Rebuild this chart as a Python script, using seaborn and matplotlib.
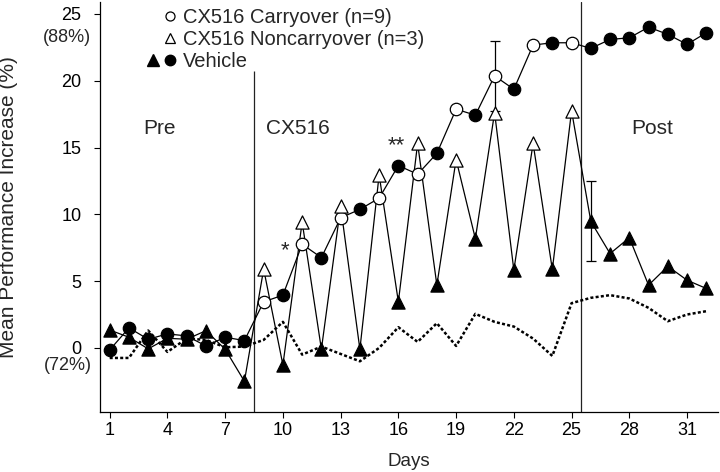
import matplotlib
matplotlib.use('Agg')
import pandas as pd
import matplotlib.pyplot as plt
import matplotlib.transforms as mtransforms
from matplotlib.lines import Line2D
from matplotlib.legend_handler import HandlerTuple
import seaborn as sns

# --- data ---
days = list(range(1, 33))
carryover = [-0.15, 1.5, 0.65, 1.05, 0.9, 0.15, 0.8, 0.55,
             3.45, 3.95, 7.76, 6.76, 9.74, 10.37, 11.21, 13.65, 13.0,
             14.56, 17.87, 17.42, 20.36, 19.36, 22.67, 22.84, 22.84,
             22.42, 23.09, 23.21, 24.01, 23.47, 22.72, 23.59]
noncarryover = [1.34, 0.8, -0.07, 0.72, 0.65, 1.29, -0.1, -2.5,
                5.9, -1.27, 9.42, -0.1, 10.59, -0.1, 12.95, 3.45, 15.31,
                4.7, 14.1, 8.18, 17.62, 5.82, 15.31, 5.87, 17.75,
                9.47, 7.06, 8.25, 4.7, 6.11, 5.07, 4.45]
baseline = [-0.75, -0.75, 1.3, -0.3, 0.7, 0.6, 0.05, 0.1,
            0.6, 1.95, -0.5, 0.1, -0.45, -1.0, 0.0, 1.55, 0.45,
            1.85, 0.15, 2.55, 1.95, 1.6, 0.7, -0.6, 3.35,
            3.75, 3.95, 3.7, 3.0, 2.0, 2.5, 2.75]
drug_days = list(range(9, 26, 2))  # open symbols = CX516 sessions
carry_err_days = [21]
carry_err = [2.6]
noncarry_err_days = [26]
noncarry_err = [3.0]
phase_bounds = [8.5, 25.5]
phase_names = ['Pre', 'CX516', 'Post']
x_ticks = list(range(1, 32, 3))
y_ticks = [0, 5, 10, 15, 20, 25]

rows = []
for grp, vals in [('Carryover', carryover), ('Noncarryover', noncarryover)]:
    for d, v in zip(days, vals):
        rows.append({'day': d, 'value': v, 'group': grp,
                     'treatment': 'CX516' if d in drug_days else 'Vehicle'})
df = pd.DataFrame(rows)

sns.set_style('ticks')
plt.rcParams['font.family'] = ['Liberation Sans', 'DejaVu Sans']

fig = plt.figure(figsize=(7.2, 4.72), dpi=100)
ax = fig.add_axes([0.139, 0.127, 0.858, 0.869])

# dotted reference line
sns.lineplot(x=days, y=baseline, color='black', lw=1.8, linestyle=(0, (1.2, 0.9)),
             ax=ax, zorder=1)

# connecting lines for each group
sns.lineplot(data=df, x='day', y='value', units='group', estimator=None,
             color='black', lw=0.9, ax=ax, zorder=2, legend=False)

# error bars
cval = dict(zip(days, carryover))
nval = dict(zip(days, noncarryover))
ax.errorbar(carry_err_days, [cval[d] for d in carry_err_days], yerr=carry_err,
            fmt='none', ecolor='black', elinewidth=0.9, capsize=3.5, capthick=0.9, zorder=1.5)
ax.errorbar(noncarry_err_days, [nval[d] for d in noncarry_err_days], yerr=noncarry_err,
            fmt='none', ecolor='black', elinewidth=0.9, capsize=3.5, capthick=0.9, zorder=1.5)

# markers
for grp, mk, size in [('Carryover', 'o', 80), ('Noncarryover', '^', 90)]:
    for trt, face in [('CX516', 'white'), ('Vehicle', 'black')]:
        sub = df[(df['group'] == grp) & (df['treatment'] == trt)]
        sns.scatterplot(data=sub, x='day', y='value', marker=mk, s=size, color=face,
                        edgecolor='black', linewidth=0.9, ax=ax, zorder=4, legend=False)

# phase boundaries
ax.vlines(phase_bounds[0], -4.8, 20.7, color='#222222', lw=0.9, zorder=0)
ax.axvline(phase_bounds[1], color='#222222', lw=0.9, zorder=0)

# phase names
ax.text(3.6, 16.4, phase_names[0], fontsize=15, ha='center', va='center')
ax.text(10.8, 16.4, phase_names[1], fontsize=15, ha='center', va='center')
ax.text(29.2, 16.4, phase_names[2], fontsize=15, ha='center', va='center')

# significance marks
ax.text(10.1, 7.3, '*', fontsize=16, ha='center', va='center')
ax.text(15.9, 15.1, '**', fontsize=16, ha='center', va='center')

ax.set_xlim(0.5, 32.6)
ax.set_ylim(-4.8, 25.9)
ax.set_xticks(x_ticks)
ax.set_yticks(y_ticks)
ax.tick_params(direction='out', length=4.5, width=0.8, labelsize=13, colors='black')
ax.tick_params(axis='y', pad=9)
ax.tick_params(axis='x', pad=3)
ax.set_xlabel('Days', fontsize=13.5, labelpad=10)
ax.set_ylabel('Mean Performance Increase (%)', fontsize=15)
ax.yaxis.set_label_coords(-0.133, 0.5)
sns.despine(ax=ax)
for sp in ['left', 'bottom']:
    ax.spines[sp].set_linewidth(0.9)
    ax.spines[sp].set_color('black')

# percent equivalents under the 0 and 25 ticks
trans = mtransforms.blended_transform_factory(ax.transAxes, ax.transData)
ax.text(-0.014, 23.2, '(88%)', transform=trans, ha='right', va='center', fontsize=13)
ax.text(-0.014, -1.3, '(72%)', transform=trans, ha='right', va='center', fontsize=13)

# legend
blank = Line2D([], [], ls='none', marker='None')
h_carry = (blank, Line2D([], [], ls='none', marker='o', mfc='white', mec='black', ms=6.5, mew=0.9))
h_non = (blank, Line2D([], [], ls='none', marker='^', mfc='white', mec='black', ms=7.5, mew=0.9))
h_veh = (Line2D([], [], ls='none', marker='^', mfc='black', mec='black', ms=8.5),
         Line2D([], [], ls='none', marker='o', mfc='black', mec='black', ms=7.5))
ax.legend([h_carry, h_non, h_veh],
          ['CX516 Carryover (n=9)', 'CX516 Noncarryover (n=3)', 'Vehicle'],
          handler_map={tuple: HandlerTuple(ndivide=None, pad=0)},
          loc='upper left', bbox_to_anchor=(0.072, 0.986), frameon=False,
          fontsize=14.5, handlelength=1.7, handletextpad=0.22, labelspacing=0.15,
          borderaxespad=0, borderpad=0)

fig.savefig('out.png', dpi=100)
